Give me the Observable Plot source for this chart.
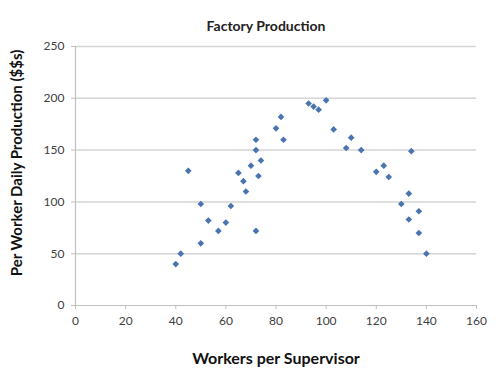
<!DOCTYPE html>
<html>
<head>
<meta charset="utf-8">
<script src="https://cdn.jsdelivr.net/npm/d3@7"></script>
<script src="https://cdn.jsdelivr.net/npm/@observablehq/plot@0.6"></script>
<style>
  html, body { margin: 0; padding: 0; background: #fff; }
</style>
</head>
<body>
<div id="chart"></div>
<script>
const titleText = "Factory Production";
const xLabel = "Workers per Supervisor";
const yLabel = "Per Worker Daily Production ($$s)";
const xTicks = [0, 20, 40, 60, 80, 100, 120, 140, 160];
const yTicks = [0, 50, 100, 150, 200, 250];

const workers = [40, 42, 45, 50, 50, 53, 57, 60, 62, 65, 67, 68, 70, 72, 72, 72, 73, 74, 80, 82, 83, 93, 95, 97, 100, 103, 108, 110, 114, 120, 123, 125, 130, 133, 134, 133, 137, 137, 140];
const production = [40, 50, 130, 98, 60, 82, 72, 80, 96, 128, 120, 110, 135, 160, 150, 72, 125, 140, 171, 182, 160, 195, 192, 189, 198, 170, 152, 162, 150, 129, 135, 124, 98, 108, 149, 83, 91, 70, 50];

const data = workers.map((w, i) => ({w, p: production[i]}));

const font = "Lato, 'Open Sans', sans-serif";

const chart = Plot.plot({
  width: 496,
  height: 376,
  marginLeft: 75,
  marginRight: 20,
  marginTop: 46,
  marginBottom: 71,
  style: {fontFamily: font, fontSize: "12px", color: "#404040", background: "#fff"},
  x: {domain: [0, 160]},
  y: {domain: [0, 250]},
  marks: [
    Plot.gridY([50, 100, 150, 200, 250], {stroke: "#d4d4d4", strokeOpacity: 1, strokeWidth: 1.5}),
    Plot.ruleY([0], {stroke: "#c0c0c0", strokeWidth: 1.2}),
    Plot.ruleX([0], {stroke: "#c0c0c0", strokeWidth: 1.2}),
    Plot.axisX({ticks: xTicks, tickSize: 4, tickPadding: 7, stroke: "#c0c0c0", label: null, fontSize: 12}),
    Plot.axisY({ticks: yTicks, tickSize: 4, tickPadding: 7, stroke: "#c0c0c0", label: null, fontSize: 12}),
    Plot.dot(data, {x: "w", y: "p", symbol: "diamond2", r: 3, fill: "#4a74b0", stroke: "none"}),
    Plot.text([titleText], {frameAnchor: "top", dy: -25, dx: -10, text: d => d, fontSize: 14, fontWeight: "bold", fill: "#222"}),
    Plot.text([xLabel], {frameAnchor: "bottom", dy: 58, text: d => d, fontSize: 16, fontWeight: "bold", fill: "#111"}),
    Plot.text([yLabel], {frameAnchor: "left", dx: -58, dy: -13, rotate: -90, textAnchor: "middle", text: d => d, fontSize: 15, fontWeight: "bold", fill: "#111"})
  ]
});
document.getElementById("chart").append(chart);
</script>
</body>
</html>
